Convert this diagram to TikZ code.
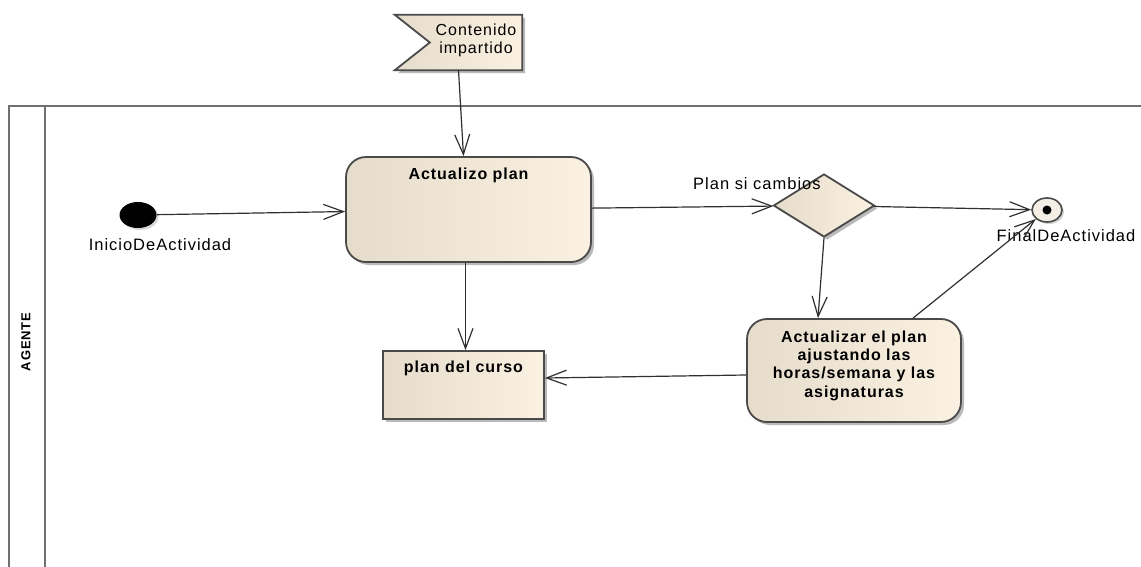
\documentclass[tikz,border=0pt]{standalone}
\usepackage{fontspec}
\setmainfont{Liberation Sans}[LetterSpace=6]
\usetikzlibrary{arrows.meta,shapes.geometric,shadows,calc}

\definecolor{lanegray}{HTML}{707070}
\definecolor{edgegray}{HTML}{4A4A4A}
\definecolor{flowline}{HTML}{303030}
\definecolor{fillL}{HTML}{E6DCCB}
\definecolor{fillR}{HTML}{FBF1E2}
\definecolor{endfill}{HTML}{F4EEE4}

\begin{document}
\begin{tikzpicture}[x=1pt,y=-1pt,
  lane/.style={draw=lanegray, line width=2.4pt},
  boxfill/.style={left color=fillL, right color=fillR, draw=edgegray, line width=1.8pt,
    drop shadow={shadow xshift=3pt, shadow yshift=-3pt, opacity=0.45, fill=black!60}},
  activity/.style={boxfill, rounded corners=20pt, inner sep=0pt},
  objbox/.style={boxfill, inner sep=0pt},
  decision/.style={boxfill, diamond, inner sep=0pt},
  title/.style={font=\fontsize{16}{18.3}\selectfont\bfseries, inner sep=0pt},
  plain/.style={font=\fontsize{16.5}{18}\selectfont, inner sep=0pt},
  flow/.style={draw=flowline, line width=1.2pt,
    -{Straight Barb[length=20pt,width=15pt,line width=1.2pt]}}
]
\useasboundingbox (0,0) rectangle (1141,567);
\fill[white] (0,0) rectangle (1141,567);

% swimlane frame
\draw[lane] (1141,106) -- (9,106) -- (9,567);
\draw[lane] (45,106) -- (45,567);
\node[font=\fontsize{13}{15}\selectfont\bfseries, rotate=90, inner sep=0pt] (lanename) at (26,342) {AGENTE};

% incoming signal
\node[minimum width=127pt, minimum height=55pt, inner sep=0pt] (sig) at (458.5,42.5) {};
\path[boxfill, line join=miter]
  (sig.north west) -- (sig.north east) -- (sig.south east) -- (sig.south west)
  -- ($(sig.west)+(35,0)$) -- cycle;
\node[plain, align=center, font=\fontsize{16}{18}\selectfont] (sigtext) at (476,40) {Contenido\\impartido};

% start and end
\node[ellipse, fill=black, minimum width=37pt, minimum height=26pt, inner sep=0pt,
  drop shadow={shadow xshift=2pt, shadow yshift=-2pt, opacity=0.3}] (init) at (138,215) {};
\node[plain] (initlabel) at (160,245) {InicioDeActividad};

\node[ellipse, fill=endfill, draw=edgegray, line width=1.6pt, minimum width=30pt, minimum height=24pt, inner sep=0pt,
  drop shadow={shadow xshift=2pt, shadow yshift=-2pt, opacity=0.35}] (fin) at (1047,210) {};
\fill[black] (fin.center) circle (4.5pt);
\node[plain] (finlabel) at (1066,236) {FinalDeActividad};

% activities
\node[activity, minimum width=245pt, minimum height=105pt,
  label={[title, anchor=north, yshift=-12pt]north:Actualizo plan}] (act) at (468.5,209.5) {};
\node[objbox, minimum width=161pt, minimum height=68pt,
  label={[title, anchor=north, yshift=-11pt]north:plan del curso}] (plan) at (463.5,385) {};
\node[activity, minimum width=214pt, minimum height=103pt,
  label={[title, align=center, yshift=5pt]center:Actualizar el plan\\ajustando las\\horas/semana y las\\asignaturas}] (upd) at (854,370.5) {};

% decision
\node[decision, minimum width=101pt, minimum height=63pt] (dec) at (824,205.5) {};
\node[plain, anchor=south west] (declabel) at (693,190) {Plan si cambios};

% flows
\draw[flow] (init) -- (act);
\draw[flow] (sig.south) -- ([xshift=-5pt]act.north);
\draw[flow] (act) -- (dec);
\draw[flow] (dec) -- (fin);
\draw[flow] (dec.south) -- ([xshift=-36pt]upd.north);
\draw[flow] ([xshift=-3pt]act.south) -- ([xshift=2pt]plan.north);
\draw[flow] ([yshift=-4.5pt]upd.west) -- ([yshift=7pt]plan.east);
\draw[flow] ([xshift=59pt]upd.north) -- (fin);
\end{tikzpicture}
\end{document}
